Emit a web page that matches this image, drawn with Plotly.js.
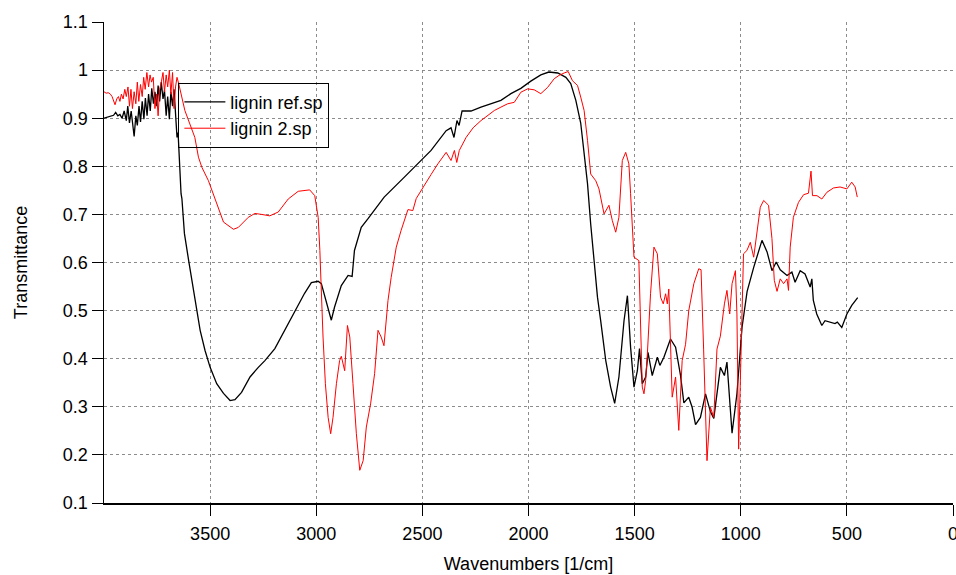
<!DOCTYPE html>
<html>
<head>
<meta charset="utf-8">
<script src="https://cdn.plot.ly/plotly-3.0.1.min.js"></script>
<style>html,body{margin:0;padding:0;background:#fff;}#chart{width:956px;height:575px;}</style>
</head>
<body>
<div id="chart"></div>
<script>
// lignin ref.sp (black)
var refWn = [4000,3985,3970,3955,3945,3935,3925,3915,3905,3895,3888,3880,3872,3865,3858,3850,3843,3835,3828,3820,3812,3805,3797,3790,3782,3775,3767,3760,3752,3745,3738,3730,3722,3715,3707,3700,3692,3685,3677,3670,3663,3656,3651,3645,3637,3633,3621,3599,3578,3563,3547,3524,3500,3469,3437,3406,3383,3352,3312,3273,3242,3195,3149,3102,3055,3023,2991,2976,2929,2914,2882,2850,2831,2820,2788,2756,2680,2586,2459,2388,2365,2351,2337,2327,2313,2271,2224,2130,2083,2036,1989,1942,1904,1862,1824,1801,1777,1754,1738,1722,1707,1691,1675,1660,1636,1613,1594,1574,1550,1534,1519,1503,1487,1477,1464,1448,1437,1417,1393,1381,1362,1331,1307,1284,1268,1245,1229,1213,1190,1166,1143,1127,1096,1077,1065,1041,1018,994,970,939,900,876,853,833,814,782,759,744,720,697,673,665,658,642,618,603,579,556,545,524,500,477,449];
var refT = [0.900,0.902,0.904,0.906,0.912,0.905,0.908,0.900,0.915,0.895,0.925,0.890,0.915,0.880,0.862,0.905,0.885,0.925,0.892,0.935,0.898,0.942,0.905,0.950,0.915,0.962,0.930,0.955,0.925,0.968,0.935,0.975,0.940,0.958,0.905,0.945,0.898,0.955,0.925,0.960,0.905,0.860,0.870,0.800,0.743,0.733,0.660,0.598,0.542,0.500,0.459,0.417,0.382,0.348,0.328,0.313,0.315,0.330,0.362,0.382,0.396,0.421,0.459,0.500,0.536,0.558,0.561,0.556,0.480,0.507,0.552,0.573,0.571,0.625,0.673,0.691,0.736,0.777,0.833,0.874,0.880,0.860,0.895,0.885,0.915,0.915,0.923,0.937,0.951,0.962,0.977,0.990,0.996,0.994,0.985,0.972,0.937,0.890,0.833,0.764,0.680,0.604,0.528,0.479,0.396,0.341,0.307,0.362,0.479,0.531,0.424,0.341,0.375,0.421,0.348,0.362,0.413,0.365,0.403,0.386,0.403,0.441,0.424,0.366,0.308,0.320,0.299,0.263,0.278,0.327,0.290,0.276,0.382,0.365,0.393,0.245,0.327,0.465,0.540,0.590,0.646,0.622,0.583,0.601,0.585,0.573,0.580,0.559,0.583,0.576,0.549,0.566,0.521,0.493,0.469,0.479,0.476,0.473,0.476,0.465,0.493,0.511,0.527];

// lignin 2.sp (red)
var l2Wn = [4000,3990,3980,3970,3962,3955,3948,3940,3932,3925,3918,3910,3902,3895,3887,3880,3873,3866,3858,3850,3843,3836,3828,3820,3813,3806,3798,3790,3783,3776,3768,3760,3752,3745,3738,3730,3722,3715,3707,3700,3692,3685,3677,3670,3663,3656,3648,3619,3596,3572,3555,3539,3508,3485,3461,3437,3390,3367,3320,3289,3258,3219,3179,3132,3085,3031,3007,2991,2983,2976,2968,2957,2944,2932,2921,2905,2890,2882,2866,2853,2842,2827,2811,2795,2779,2764,2744,2725,2709,2694,2681,2662,2647,2623,2600,2568,2545,2529,2506,2459,2427,2388,2365,2349,2338,2326,2294,2261,2224,2192,2161,2130,2098,2067,2036,2004,1973,1942,1910,1879,1856,1832,1813,1793,1769,1754,1738,1722,1707,1683,1668,1644,1621,1605,1589,1574,1558,1542,1527,1519,1503,1480,1464,1456,1448,1440,1425,1409,1393,1378,1365,1354,1346,1339,1331,1323,1307,1292,1276,1260,1245,1221,1198,1187,1175,1159,1143,1127,1112,1096,1077,1065,1052,1041,1025,1018,1010,999,987,971,955,939,923,908,892,869,853,842,829,814,798,782,775,767,752,728,704,681,669,662,641,618,594,563,532,500,477,461,451];
var l2T = [0.955,0.952,0.953,0.950,0.945,0.935,0.928,0.940,0.945,0.935,0.950,0.940,0.960,0.945,0.965,0.925,0.960,0.920,0.955,0.930,0.975,0.935,0.970,0.945,0.985,0.960,0.995,0.965,0.990,0.975,0.985,0.920,0.950,0.905,0.960,0.975,0.995,0.955,0.990,0.965,1.000,0.950,0.995,0.920,0.965,0.985,0.972,0.916,0.889,0.860,0.819,0.798,0.770,0.743,0.715,0.684,0.669,0.673,0.694,0.702,0.700,0.697,0.705,0.732,0.748,0.751,0.739,0.694,0.625,0.521,0.445,0.348,0.278,0.244,0.278,0.348,0.396,0.405,0.375,0.469,0.445,0.348,0.244,0.168,0.188,0.258,0.306,0.369,0.459,0.445,0.427,0.521,0.569,0.632,0.667,0.710,0.708,0.733,0.750,0.783,0.805,0.829,0.812,0.833,0.808,0.833,0.860,0.880,0.895,0.906,0.916,0.923,0.930,0.933,0.954,0.961,0.959,0.951,0.964,0.982,0.989,0.994,0.997,0.978,0.968,0.944,0.916,0.854,0.784,0.770,0.753,0.701,0.719,0.687,0.663,0.694,0.812,0.829,0.805,0.743,0.611,0.604,0.341,0.327,0.355,0.410,0.535,0.632,0.618,0.528,0.514,0.535,0.514,0.545,0.445,0.320,0.362,0.251,0.396,0.430,0.500,0.556,0.587,0.585,0.420,0.188,0.299,0.278,0.420,0.447,0.514,0.542,0.493,0.556,0.583,0.493,0.212,0.389,0.618,0.625,0.642,0.611,0.660,0.715,0.729,0.719,0.650,0.563,0.540,0.566,0.556,0.566,0.542,0.632,0.694,0.725,0.741,0.744,0.790,0.739,0.739,0.732,0.746,0.755,0.757,0.753,0.767,0.757,0.736];

var xTickVals = [3500,3000,2500,2000,1500,1000,500,0];
var xTickText = ['3500','3000','2500','2000','1500','1000','500','0'];
var yTickVals = [0.1,0.2,0.3,0.4,0.5,0.6,0.7,0.8,0.9,1.0,1.1];
var yTickText = ['0.1','0.2','0.3','0.4','0.5','0.6','0.7','0.8','0.9','1','1.1'];

var traces = [
  {x: refWn, y: refT, type: 'scatter', mode: 'lines', name: 'lignin ref.sp',
   line: {color: '#000000', width: 1.3}},
  {x: l2Wn, y: l2T, type: 'scatter', mode: 'lines', name: 'lignin 2.sp',
   line: {color: '#ff0000', width: 1}}
];

var axisCommon = {
  showgrid: true, gridcolor: '#8c8c8c', griddash: 'dot', gridwidth: 1,
  showline: true, linecolor: '#000', linewidth: 1.5, mirror: false,
  ticks: 'outside', ticklen: 11, tickwidth: 1, tickcolor: '#000',
  zeroline: false, tickfont: {size: 18, color: '#000'}, ticklabeloverflow: 'allow'
};

var layout = {
  width: 956, height: 575,
  margin: {l: 104, r: 3, t: 22, b: 72},
  paper_bgcolor: '#fff', plot_bgcolor: '#fff',
  font: {family: '"Liberation Sans", Arial, Helvetica, sans-serif', size: 18, color: '#000'},
  showlegend: true,
  legend: {x: 0.0876, y: 0.874, xanchor: 'left', yanchor: 'top',
           bgcolor: 'rgba(0,0,0,0)', bordercolor: '#000', borderwidth: 1,
           itemwidth: 41, font: {size: 18, color: '#000'}},
  xaxis: Object.assign({}, axisCommon, {
    range: [4000, 0], tickmode: 'array', tickvals: xTickVals, ticktext: xTickText,
    ticklabelstandoff: 3,
    title: {text: 'Wavenumbers [1/cm]', font: {size: 18}, standoff: 14}
  }),
  yaxis: Object.assign({}, axisCommon, {
    range: [0.1, 1.1], tickmode: 'array', tickvals: yTickVals, ticktext: yTickText,
    title: {text: 'Transmittance', font: {size: 18}, standoff: 30}
  })
};

Plotly.newPlot('chart', traces, layout, {displayModeBar: false, staticPlot: true});
</script>
</body>
</html>
